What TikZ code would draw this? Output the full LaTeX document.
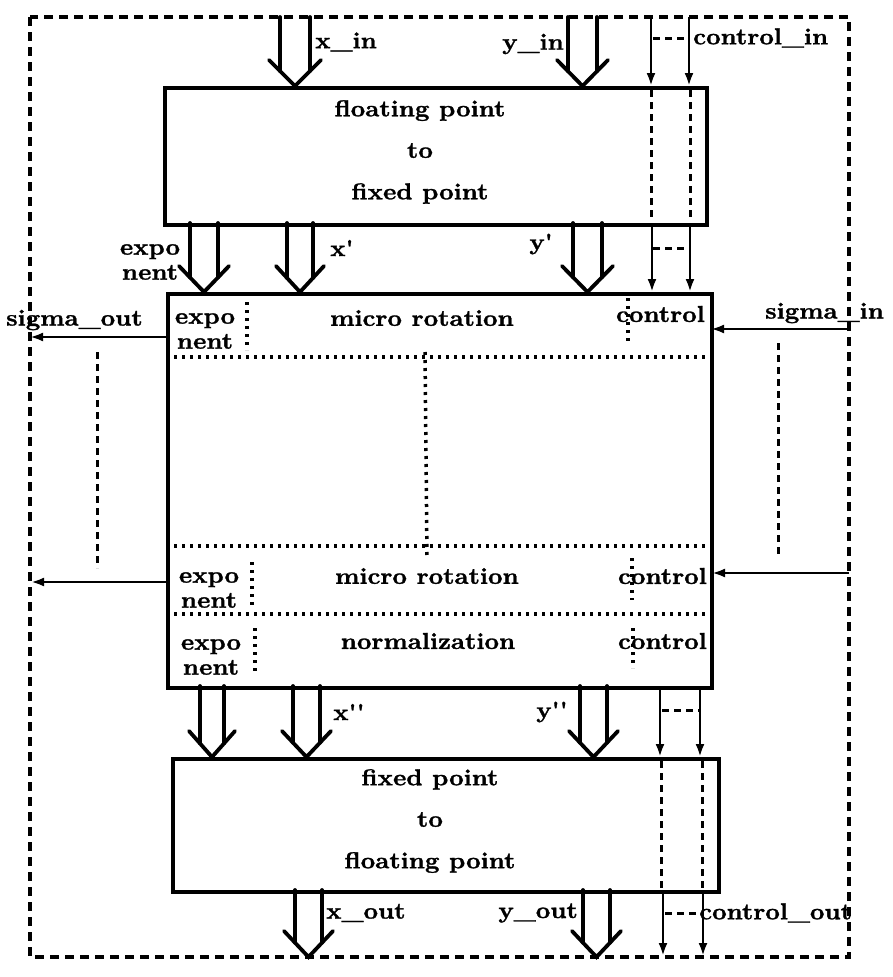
\documentclass[tikz,border=0pt]{standalone}
\usepackage{fontspec}
\usetikzlibrary{arrows.meta}
\newfontfamily\heavyfont{lmroman10-bold.otf}[FakeBold=1.2, FakeStretch=1.1]
\newcommand{\lblfont}{\fontsize{23}{25}\selectfont\heavyfont}
\newcommand{\boxfont}{\fontsize{23}{41.5}\selectfont\heavyfont}
\newcommand{\fatarrow}[4]{%
  \pgfmathsetmacro{\fxc}{(#1+#2)/2}%
  \pgfmathsetmacro{\fhw}{(#2-#1)/2}%
  \pgfmathsetmacro{\fye}{#4-26*\fhw/(\fhw+11)}%
  \draw[fat] (#1,#3) -- (#1,\fye);
  \draw[fat] (#2,#3) -- (#2,\fye);
  \draw[fat] ({#1-11},{#4-26}) -- (\fxc,#4) -- ({#2+11},{#4-26});
}
\tikzset{
  box/.style={draw, line width=3.8pt, inner sep=0pt, anchor=north west},
  fat/.style={line width=3.8pt, line cap=round, line join=miter},
  border/.style={line width=3.3pt, dash pattern=on 9pt off 6pt},
  ctldash/.style={line width=3pt, dash pattern=on 7pt off 5pt},
  dotline/.style={line width=3.5pt, dash pattern=on 3pt off 5pt},
  ctl/.style={line width=2.9pt, -{Latex[length=13pt,width=9pt]}},
  lbl/.style={inner sep=0pt, font=\lblfont},
  boxtext/.style={inner sep=0pt, align=center, font=\boxfont},
  twoline/.style={inner sep=0pt, align=center, font=\lblfont},
}
\begin{document}
\begin{tikzpicture}[x=1pt,y=-1pt]
\useasboundingbox (0,0) rectangle (892,977);
% outer dashed frame
\draw[border] (30,17) rectangle (849,957);

% boxes
\node[box, minimum width=542pt, minimum height=137pt] (f2x) at (163,86) {};
\node[box, minimum width=544pt, minimum height=394pt] (mr) at (166,292) {};
\node[box, minimum width=546pt, minimum height=133pt] (x2f) at (171,757) {};

\node[boxtext] (t1) at (420,152) {floating point\\to\\fixed point};
\node[boxtext] (t3) at (430,821) {fixed point\\to\\floating point};

% middle box internals
\draw[dotline] (166,357) -- (710,357);
\draw[dotline] (166,546) -- (710,546);
\draw[dotline] (166,614) -- (710,614);
\draw[dotline] (425,352) -- (427,557);

\draw[dotline] (247,302) -- (247,350);
\draw[dotline] (628,298) -- (628,344);
\draw[dotline] (252,562) -- (252,605);
\draw[dotline] (632,558) -- (632,600);
\draw[dotline] (255,628) -- (255,673);
\draw[dotline] (633,628) -- (633,668);

\node[twoline] (e1) at (205,331) {expo\\nent};
\node[twoline] (e2) at (209,590) {expo\\nent};
\node[twoline] (e3) at (211,657) {expo\\nent};
\node[lbl] (m1) at (422,318) {micro rotation};
\node[lbl] (m2) at (427,576) {micro rotation};
\node[lbl] (m3) at (428,641) {normalization};
\node[lbl, anchor=east] (c1) at (705,314) {control};
\node[lbl, anchor=east] (c2) at (707,576) {control};
\node[lbl, anchor=east] (c3) at (707,641) {control};

% fat data arrows
\fatarrow{280}{310}{17}{86}
\fatarrow{568}{597}{17}{86}
\fatarrow{190}{218}{223}{292}
\fatarrow{287}{313}{223}{292}
\fatarrow{573}{602}{223}{292}
\fatarrow{200}{224}{686}{757}
\fatarrow{293}{320}{686}{757}
\fatarrow{580}{607}{686}{757}
\fatarrow{295}{322}{890}{957}
\fatarrow{583}{610}{890}{957}

\node[lbl, anchor=west] (xin) at (315,42) {x\_in};
\node[lbl, anchor=east] (yin) at (564,44) {y\_in};
\node[twoline] (ex0) at (150,262) {expo\\nent};
\node[lbl, anchor=west] (xp) at (330,248) {x'};
\node[lbl, anchor=east] (yp) at (553,244) {y'};
\node[lbl, anchor=west] (xpp) at (333,712) {x''};
\node[lbl, anchor=east] (ypp) at (568,712) {y''};
\node[lbl, anchor=west] (xout) at (326,913) {x\_out};
\node[lbl, anchor=east] (yout) at (578,913) {y\_out};

% control bus
\draw[ctl] (651,17) -- (651,86);
\draw[ctl] (689,17) -- (689,86);
\draw[ctldash] (653,38) -- (690,38);
\node[lbl, anchor=west] (cin) at (693,38) {control\_in};
\draw[ctldash] (651,90) -- (651,221);
\draw[ctldash] (690,90) -- (690,221);
\draw[ctl] (652,223) -- (652,292);
\draw[ctl] (690,223) -- (690,292);
\draw[ctldash] (653,248) -- (689,248);

\draw[ctl] (660,686) -- (660,757);
\draw[ctl] (700,686) -- (700,757);
\draw[ctldash] (662,710) -- (699,710);
\draw[ctldash] (661,761) -- (661,888);
\draw[ctldash] (702,761) -- (702,888);
\draw[ctl] (663,890) -- (663,956);
\draw[ctl] (703,890) -- (703,956);
\draw[ctldash] (665,913) -- (698,913);
\node[lbl, anchor=west] (cout) at (699,913) {control\_out};

% sigma signals
\draw[ctl] (166,337) -- (30,337);
\draw[ctl] (166,582) -- (31,582);
\draw[ctldash] (97,352) -- (97,568);
\node[lbl, anchor=west] (sout) at (6,320) {sigma\_out};

\draw[ctl] (849,329) -- (711,329);
\draw[ctl] (849,573) -- (712,573);
\draw[ctldash] (778,343) -- (778,558);
\node[lbl, anchor=west] (sin) at (765,313) {sigma\_in};
\end{tikzpicture}
\end{document}
